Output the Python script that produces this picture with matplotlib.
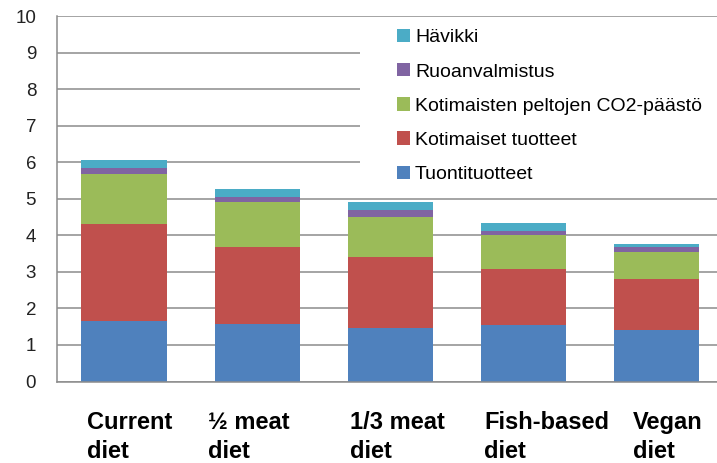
import numpy as np
import matplotlib
matplotlib.use('Agg')
import matplotlib.pyplot as plt
from matplotlib.patches import Rectangle

# diets on the x axis
diets = ['Current\ndiet', '½ meat\ndiet', '1/3 meat\ndiet', 'Fish-based\ndiet', 'Vegan\ndiet']
# small per-label shift, the labels are not centred under the bars
label_shift = [-0.278, -0.369, -0.303, -0.297, -0.18]

# stacked components, bottom to top
tuonti = [1.65, 1.56, 1.47, 1.54, 1.42]
kotimaiset = [2.65, 2.13, 1.94, 1.54, 1.38]
pellot = [1.38, 1.21, 1.10, 0.93, 0.73]
ruoanvalmistus = [0.16, 0.16, 0.17, 0.12, 0.14]
havikki = [0.21, 0.22, 0.22, 0.22, 0.08]

series = [
    ('Tuontituotteet', tuonti, '#4F81BD'),
    ('Kotimaiset tuotteet', kotimaiset, '#C0504D'),
    ('Kotimaisten peltojen CO2-päästö', pellot, '#9BBB59'),
    ('Ruoanvalmistus', ruoanvalmistus, '#8064A2'),
    ('Hävikki', havikki, '#4BACC6'),
]

fig = plt.figure(figsize=(7.17, 4.63), dpi=100)
ax = fig.add_axes([0.0795, 0.176, 0.9205, 0.7894])

x = np.arange(len(diets))
bottom = np.zeros(len(diets))
handles = []
for name, vals, col in series:
    b = ax.bar(x, vals, width=0.64, bottom=bottom, color=col, label=name, zorder=2)
    handles.append(b)
    bottom += np.array(vals)

ax.set_ylim(0, 10)
ax.set_xlim(-0.503, 4.452)
ax.set_yticks(range(0, 11))
ax.set_xticks([])
ax.tick_params(axis='y', length=0, pad=15, labelsize=13.5, colors='#222222')
for lab in ax.get_yticklabels():
    lab.set_family('Liberation Sans')

for i, txt in enumerate(diets):
    ax.text(x[i] + label_shift[i], -0.08, txt, transform=ax.get_xaxis_transform(),
            ha='left', va='top', fontsize=17, fontweight='bold',
            family='Liberation Sans', linespacing=1.35)

ax.yaxis.grid(True, color='#8c8c8c', linewidth=1.1)
ax.set_axisbelow(True)
for s in ['top', 'right']:
    ax.spines[s].set_visible(False)
for s in ['left', 'bottom']:
    ax.spines[s].set_color('#8c8c8c')
    ax.spines[s].set_linewidth(1.1)

# white legend area hiding the gridlines
ax.add_patch(Rectangle((0.459, 0.505), 0.6, 0.49, transform=ax.transAxes,
                       facecolor='white', edgecolor='none', zorder=1))

ax.legend(handles[::-1], [s[0] for s in series][::-1], loc='upper left',
          bbox_to_anchor=(0.515, 0.9645), frameon=False,
          prop={'family': 'Liberation Sans', 'size': 14},
          handlelength=0.67, handleheight=0.67, handletextpad=0.26,
          labelspacing=0.86, borderpad=0, borderaxespad=0)

fig.savefig('out.png', dpi=100)
